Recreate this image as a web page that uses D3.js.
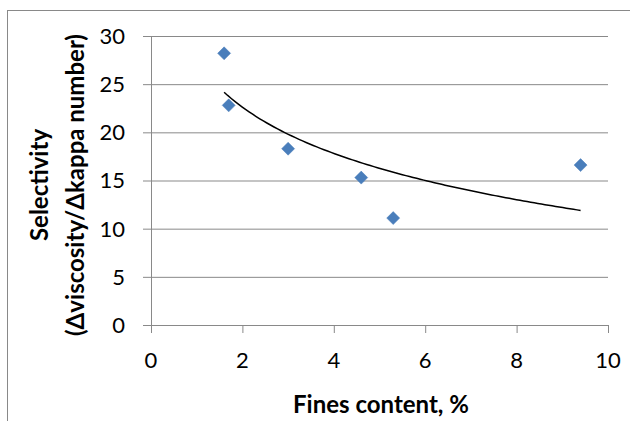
<!DOCTYPE html>
<html>
<head>
<meta charset="utf-8">
<script src="https://cdn.jsdelivr.net/npm/d3@7"></script>
<style>
  html, body { margin: 0; padding: 0; background: #fff; }
  svg { display: block; }
  text { font-family: Lato, Carlito, "Open Sans", sans-serif; fill: #000; }
</style>
</head>
<body>
<svg id="chart" width="630" height="421"></svg>
<script>
// Data
const finesContent = [1.6, 1.7, 3.0, 4.6, 5.3, 9.4];
const selectivity = [28.2, 22.8, 18.3, 15.3, 11.1, 16.6];
const xTicks = [0, 2, 4, 6, 8, 10];
const yTicks = [0, 5, 10, 15, 20, 25, 30];
const xTitle = "Fines content, %";
const yTitleLines = ["Selectivity", "(Δviscosity/Δkappa number)"];

(function () {
const svg = d3.select("#chart");
const pL = 151, pR = 608, pT = 36, pB = 325;
const gridColor = "#898989";

// outer chart frame (cropped at right/bottom)
svg.append("rect").attr("x", 7.5).attr("y", 10.5).attr("width", 640).attr("height", 440)
  .attr("fill", "#fff").attr("stroke", gridColor).attr("stroke-width", 1);

const x = d3.scaleLinear().domain([0, 10]).range([pL, pR]);
const y = d3.scaleLinear().domain([0, 30]).range([pB, pT]);

// horizontal gridlines (extend left by tick length)
const yAxis = d3.axisLeft(y).tickValues(yTicks).tickSize(-(pR - pL)).tickFormat("");
const gy = svg.append("g").attr("transform", `translate(${pL},0)`).call(yAxis);
gy.select(".domain").remove();
gy.selectAll(".tick line").attr("stroke", gridColor).attr("x1", -8);

// y tick labels
svg.append("g").selectAll("text").data(yTicks).join("text")
  .attr("x", 125).attr("y", d => y(d)).attr("text-anchor", "end")
  .attr("dy", "0.36em").attr("font-size", 22).text(d => d);

// y axis line
svg.append("line").attr("x1", pL + 0.5).attr("x2", pL + 0.5)
  .attr("y1", pT).attr("y2", pB + 8).attr("stroke", gridColor);

// x axis
const xAxis = d3.axisBottom(x).tickValues(xTicks).tickSize(8).tickFormat("");
const gx = svg.append("g").attr("transform", `translate(0,${pB})`).call(xAxis);
gx.select(".domain").attr("stroke", gridColor).attr("d", `M${pL - 8},0.5H${pR}`);
gx.selectAll(".tick line").attr("stroke", gridColor);

svg.append("g").selectAll("text").data(xTicks).join("text")
  .attr("x", d => x(d)).attr("y", 368).attr("text-anchor", "middle")
  .attr("font-size", 22).text(d => d);

// x title
svg.append("text").attr("x", 381).attr("y", 413).attr("text-anchor", "middle")
  .attr("font-size", 24).attr("font-weight", "bold").text(xTitle);

// y title
const yt = svg.append("text").attr("transform", "translate(0,185) rotate(-90)")
  .attr("text-anchor", "middle").attr("font-size", 24).attr("font-weight", "bold");
yt.append("tspan").attr("x", 0).attr("y", 48).text(yTitleLines[0]);
yt.append("tspan").attr("x", 0).attr("y", 84).text(yTitleLines[1]);

// logarithmic least-squares trendline computed from the data
const lx = finesContent.map(Math.log);
const mx = d3.mean(lx), my = d3.mean(selectivity);
const b = d3.sum(lx, (v, i) => (v - mx) * (selectivity[i] - my)) / d3.sum(lx, v => (v - mx) ** 2);
const a = my - b * mx;
const xmin = d3.min(finesContent), xmax = d3.max(finesContent);
const trendX = d3.range(0, 101).map(i => xmin + (xmax - xmin) * i / 100);
svg.append("path")
  .datum(trendX)
  .attr("fill", "none").attr("stroke", "#000").attr("stroke-width", 1.5)
  .attr("d", d3.line().x(d => x(d)).y(d => y(a + b * Math.log(d))));

// markers (diamonds)
svg.append("g").selectAll("path").data(finesContent).join("path")
  .attr("transform", (d, i) => `translate(${x(d)},${y(selectivity[i])})`)
  .attr("d", "M0,-6.5L6.5,0L0,6.5L-6.5,0Z")
  .attr("fill", "#4A7EBB").attr("stroke", "#4A7EBB").attr("stroke-width", 0.5);
})();
</script>
</body>
</html>
